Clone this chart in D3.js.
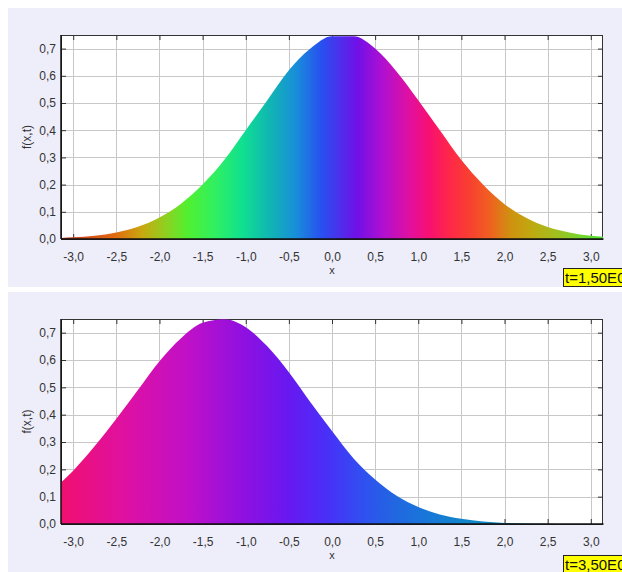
<!DOCTYPE html>
<html>
<head>
<meta charset="utf-8">
<script src="https://cdn.jsdelivr.net/npm/d3@7"></script>
<style>
body { margin: 0; background: #fff; }
text { font-family: "Liberation Sans", Arial, sans-serif; }
.grid line { stroke: #c8c8c8; stroke-width: 1; }
.tick line { stroke: #333; }
.tick text { fill: #333; font-size: 12px; }
.domain { stroke: none; }
.edge { stroke: #333; stroke-width: 1; }
.axisLine { stroke: #111; stroke-width: 1.5; }
.title { fill: #333; font-size: 12px; }
.stamp rect { fill: #ffff00; stroke: #222; stroke-width: 1; }
.stamp text { fill: #111; font-size: 15px; }
</style>
</head>
<body>
<svg id="chart"></svg>
<script>
// sample positions along x (domain is -pi..pi)
var xs = [-3.1416, -3.0, -2.75, -2.5, -2.25, -2.0, -1.75, -1.5, -1.25, -1.0, -0.75, -0.5, -0.25,
          0.0, 0.25, 0.5, 0.75, 1.0, 1.25, 1.5, 1.75, 2.0, 2.25, 2.5, 2.75, 3.0, 3.1416];
// f(x,t), t=1,50E0
var f1 = [0.004, 0.006, 0.012, 0.024, 0.045, 0.079, 0.13, 0.20, 0.29, 0.40, 0.51, 0.62, 0.70,
          0.745, 0.745, 0.70, 0.615, 0.51, 0.40, 0.29, 0.20, 0.128, 0.078, 0.044, 0.024, 0.012, 0.008];
// f(x,t), t=3,50E0
var f2 = [0.152, 0.195, 0.285, 0.385, 0.49, 0.595, 0.68, 0.736, 0.749, 0.72, 0.65, 0.555, 0.445,
          0.34, 0.24, 0.163, 0.103, 0.062, 0.035, 0.019, 0.009, 0.004, 0.002, 0.001, 0.0, 0.0, 0.0];
var xTicks = [-3.0, -2.5, -2.0, -1.5, -1.0, -0.5, 0.0, 0.5, 1.0, 1.5, 2.0, 2.5, 3.0];
var yTicks = [0.0, 0.1, 0.2, 0.3, 0.4, 0.5, 0.6, 0.7];
var stamps = ["t=1,50E0", "t=3,50E0"];
var yTitle = "f(x,t)";
var xTitle = "x";

// phase colours along x, read from the fill
var hues1 = [[-3.14, "#c83422"], [-2.52, "#e06a10"], [-2.2, "#c8a810"], [-1.93, "#90d020"],
             [-1.67, "#50f030"], [-1.36, "#30f060"], [-1.04, "#10e090"], [-0.74, "#10b8b0"],
             [-0.43, "#1890d8"], [-0.12, "#2850f0"], [0.29, "#7010e8"], [0.59, "#b010d0"],
             [0.9, "#e010a0"], [1.13, "#f81070"], [1.37, "#ff2848"], [1.6, "#f84030"],
             [1.83, "#f06020"], [2.06, "#d09010"], [2.3, "#c0a810"], [2.61, "#a0c020"],
             [2.91, "#70d830"], [3.14, "#50e030"]];
var hues2 = [[-3.14, "#f01070"], [-2.43, "#e010a0"], [-1.67, "#c010c8"], [-1.04, "#9010e0"],
             [-0.51, "#6818f0"], [-0.05, "#4830f8"], [0.36, "#3050f0"], [0.75, "#2068e0"],
             [1.13, "#1878d8"], [1.6, "#1088c8"], [3.14, "#1090c0"]];

var width = 622, height = 572;
var plotLeft = 61, plotRight = 603;
var panels = [
	{ bgTop: 8, bgBottom: 287, top: 35, bottom: 239, stampY: 268, f: f1, hues: hues1, stamp: stamps[0] },
	{ bgTop: 292, bgBottom: 572, top: 319, bottom: 524, stampY: 555, f: f2, hues: hues2, stamp: stamps[1] }
];

var svg = d3.select("#chart")
.attr("width", width)
.attr("height", height);

var defs = svg.append("defs");

var x = d3.scaleLinear()
.domain([-Math.PI, Math.PI])
.range([plotLeft, plotRight]);

var fmt = function(d) {
	return d3.format(".1f")(d).replace(".", ",").replace("\u2212", "-");
};

panels.forEach(function(p, i) { drawPanel(p, i); });

function drawPanel(p, i) {

	var y = d3.scaleLinear()
	.domain([0, 0.75])
	.range([p.bottom, p.top]);

	var g = svg.append("g").attr("class", "panel");

	g.append("rect")
	.attr("x", 8).attr("y", p.bgTop)
	.attr("width", width-8).attr("height", p.bgBottom-p.bgTop)
	.attr("fill", "#eeeefa");

	g.append("rect")
	.attr("x", plotLeft).attr("y", p.top)
	.attr("width", plotRight-plotLeft).attr("height", p.bottom-p.top)
	.attr("fill", "#fff");

	var grid = g.append("g").attr("class", "grid");
	grid.selectAll("line.gx").data(xTicks)
	.enter().append("line")
	.attr("class", "gx")
	.attr("x1", function(d) { return Math.round(x(d))+0.5; })
	.attr("x2", function(d) { return Math.round(x(d))+0.5; })
	.attr("y1", p.top).attr("y2", p.bottom);
	grid.selectAll("line.gy").data(yTicks.slice(1))
	.enter().append("line")
	.attr("class", "gy")
	.attr("x1", plotLeft).attr("x2", plotRight)
	.attr("y1", function(d) { return Math.round(y(d))+0.5; })
	.attr("y2", function(d) { return Math.round(y(d))+0.5; });

	// inward ticks on all four sides
	g.append("g")
	.attr("transform", "translate(0,"+p.bottom+")")
	.call(d3.axisBottom(x).tickValues(xTicks).tickSize(-5).tickSizeOuter(0)
		.tickPadding(13).tickFormat(fmt));
	g.append("g")
	.attr("transform", "translate(0,"+p.top+")")
	.call(d3.axisTop(x).tickValues(xTicks).tickSize(-5).tickSizeOuter(0).tickFormat(""));
	g.append("g")
	.attr("transform", "translate("+plotLeft+",0)")
	.call(d3.axisLeft(y).tickValues(yTicks).tickSize(-5).tickSizeOuter(0)
		.tickPadding(5).tickFormat(fmt));
	g.append("g")
	.attr("transform", "translate("+plotRight+",0)")
	.call(d3.axisRight(y).tickValues(yTicks).tickSize(-5).tickSizeOuter(0).tickFormat(""));

	g.selectAll(".tick text").style("font-size", "12px");

	g.append("rect")
	.attr("class", "edge")
	.attr("x", plotLeft+0.5).attr("y", p.top+0.5)
	.attr("width", plotRight-plotLeft-1).attr("height", p.bottom-p.top)
	.attr("fill", "none");

	// phase gradient
	var grad = defs.append("linearGradient")
	.attr("id", "phase"+i)
	.attr("gradientUnits", "userSpaceOnUse")
	.attr("x1", x(-Math.PI)).attr("x2", x(Math.PI))
	.attr("y1", 0).attr("y2", 0);
	grad.selectAll("stop").data(p.hues)
	.enter().append("stop")
	.attr("offset", function(d) { return (x(d[0])-plotLeft)/(plotRight-plotLeft); })
	.attr("stop-color", function(d) { return d[1]; });

	defs.append("clipPath")
	.attr("id", "clip"+i)
	.append("rect")
	.attr("x", plotLeft).attr("y", p.top)
	.attr("width", plotRight-plotLeft).attr("height", p.bottom-p.top);

	var area = d3.area()
	.x(function(d) { return x(d[0]); })
	.y0(y(0))
	.y1(function(d) { return y(d[1]); })
	.curve(d3.curveMonotoneX);

	g.append("path")
	.datum(xs.map(function(v, k) { return [v, p.f[k]]; }))
	.attr("clip-path", "url(#clip"+i+")")
	.attr("fill", "url(#phase"+i+")")
	.attr("d", area);

	g.append("line")
	.attr("class", "axisLine")
	.attr("x1", plotLeft).attr("x2", plotRight+0.5)
	.attr("y1", p.bottom).attr("y2", p.bottom);
	g.append("line")
	.attr("class", "axisLine")
	.attr("x1", plotLeft).attr("x2", plotLeft)
	.attr("y1", p.top).attr("y2", p.bottom);

	g.append("text")
	.attr("class", "title")
	.attr("text-anchor", "middle")
	.style("font-size", "11px")
	.attr("x", (plotLeft+plotRight)/2)
	.attr("y", p.bottom+35)
	.text(xTitle);

	g.append("text")
	.attr("class", "title")
	.attr("text-anchor", "middle")
	.attr("transform", "translate(31,"+(p.top+p.bottom)/2+") rotate(-90)")
	.text(yTitle);

	var stamp = g.append("g").attr("class", "stamp");
	stamp.append("rect")
	.attr("x", 563.5).attr("y", p.stampY+0.5)
	.attr("width", 80).attr("height", 18);
	stamp.append("text")
	.attr("x", 565).attr("y", p.stampY+15)
	.text(p.stamp);

}
</script>
</body>
</html>
